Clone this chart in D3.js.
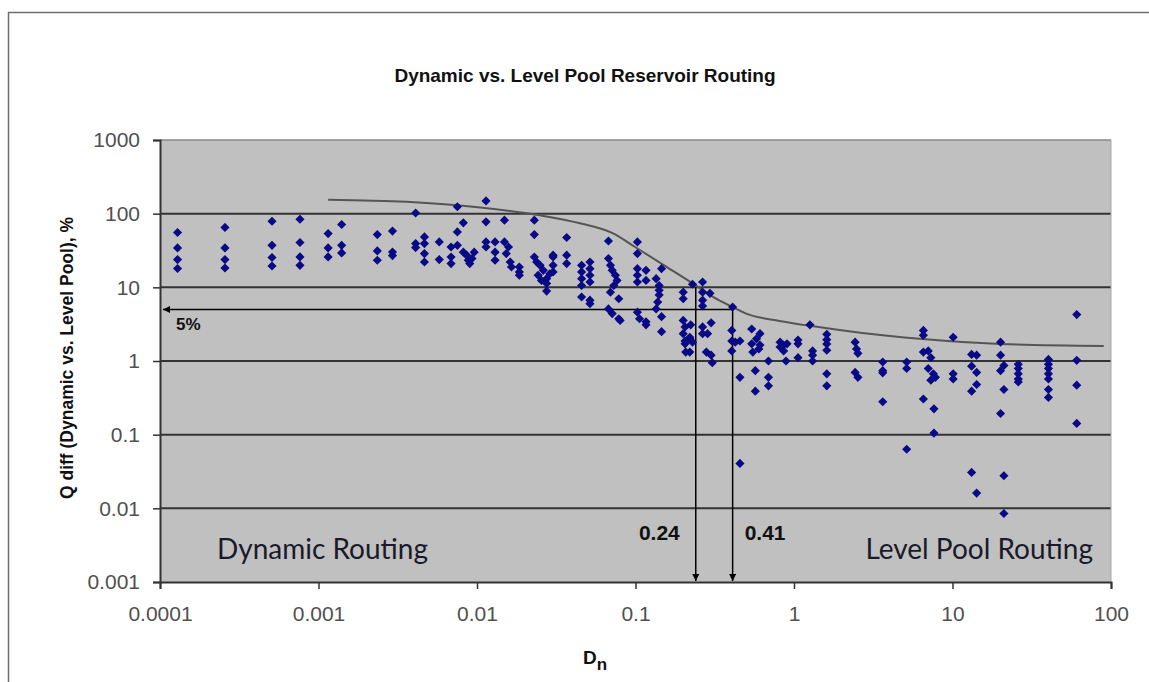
<!DOCTYPE html>
<html>
<head>
<meta charset="utf-8">
<script src="https://cdn.jsdelivr.net/npm/d3@7"></script>
<style>
  html, body { margin: 0; padding: 0; background: #ffffff; }
  svg { display: block; }
</style>
</head>
<body>
<svg id="chart" width="1149" height="682"></svg>
<script>
// Axis ticks (decades) and their printed labels
const xTicks = [0.0001, 0.001, 0.01, 0.1, 1, 10, 100];
const xTickLabels = ["0.0001", "0.001", "0.01", "0.1", "1", "10", "100"];
const yTicks = [0.001, 0.01, 0.1, 1, 10, 100, 1000];
const yTickLabels = ["0.001", "0.01", "0.1", "1", "10", "100", "1000"];

// Envelope curve through the upper bound of the differences
const envelopeDn = [0.00115, 0.0036, 0.0105, 0.025, 0.0447, 0.0722, 0.1, 0.157, 0.231, 0.308, 0.41, 0.5, 0.81, 1.26, 2.7, 6.2, 20, 90];
const envelopeQ  = [155, 145, 121, 95, 74, 54, 35, 19, 11.2, 7.4, 5.4, 4.4, 3.5, 3.0, 2.4, 2.0, 1.7, 1.6];

// Threshold annotations
const thresholdQ = 5;                 // "5%" line
const thresholdDn = [0.24, 0.41];     // vertical arrows
const thresholdTopQ = [10, 5];        // where each arrow starts

// Routing runs: [Dn, Q diff %]
const runs = [
  [0.000129,55.5],[0.000129,34.3],[0.000129,23.8],[0.000129,18],
  [0.000257,65],[0.000257,34.3],[0.000257,23.8],[0.000257,18.3],
  [0.000509,79],[0.000509,37.2],[0.000509,25.4],[0.000509,19.5],
  [0.000764,84],[0.000764,40.6],[0.000764,25.9],[0.000764,19.9],
  [0.00115,53.7],[0.00115,34.3],[0.00115,25.9],
  [0.0014,71.3],[0.0014,37.2],[0.0014,29.3],
  [0.00235,52],[0.00235,31.2],[0.00235,23.3],
  [0.00293,58],[0.00293,30.2],[0.00293,27],
  [0.0041,102],[0.0041,39.3],[0.0041,34.6],
  [0.00466,48.4],[0.00466,39.3],[0.00466,28.7],[0.00466,22.1],
  [0.00578,41.4],[0.00578,23.8],
  [0.00686,35.3],[0.00686,25.8],[0.00686,21],
  [0.00752,124],[0.00752,56.5],[0.00752,37.2],
  [0.0082,75],[0.0082,30],[0.0086,27.3],[0.0088,23.3],[0.0093,24.6],[0.009,21],[0.0096,30],
  [0.0114,149],[0.0114,77.4],[0.0114,41.4],[0.0114,35.3],
  [0.013,41.4],[0.013,30],[0.013,23.3],
  [0.0149,81.6],[0.0149,41.4],[0.0158,35.3],[0.0153,28.7],[0.0162,22.1],[0.0165,18.9],
  [0.0185,18.9],[0.0185,16.2],[0.0185,14.6],
  [0.023,81.6],[0.023,52],[0.023,25.8],
  [0.0238,22.1],[0.025,19.9],[0.0262,17],[0.0243,14.6],[0.0255,12.4],[0.0275,13.1],[0.0275,11.3],[0.0275,8.9],[0.0288,15.3],
  [0.0302,27.3],[0.0302,25.8],[0.0302,19.9],[0.0302,16.2],
  [0.0368,47.5],[0.0368,27.3],[0.0368,21],
  [0.0457,19.9],[0.0457,16.2],[0.0457,13.1],[0.0457,10.6],[0.0457,7.4],
  [0.0516,22.1],[0.0516,17.9],[0.0516,14.6],[0.0516,11.8],[0.0516,6.7],[0.0516,6],
  [0.0675,42.6],[0.0675,24.6],[0.0695,19.9],[0.0713,17],[0.0747,14.6],[0.0765,12.4],[0.073,10.6],[0.0695,8.6],[0.0784,7],
  [0.0675,5.1],[0.0713,4.4],[0.0784,3.75],[0.08,3.56],
  [0.1028,41.4],[0.1028,28.7],[0.1028,17.9],[0.1028,14.6],[0.1028,11.8],[0.1165,17],[0.1165,12.4],
  [0.1028,4.6],[0.106,3.75],[0.1165,3.4],[0.1165,3.1],
  [0.146,17.9],[0.135,13.1],[0.141,10.6],[0.141,9.1],[0.141,7.9],[0.138,6.3],[0.135,5.1],[0.146,4],[0.146,2.5],
  [0.2,8.6],[0.2,7],[0.229,11],
  [0.2,3.56],[0.2055,2.9],[0.2,2.35],[0.22,2.1],[0.2055,1.71],[0.22,1.32],[0.223,3.1],[0.2055,1.87],[0.22,2],[0.229,1.8],[0.2075,1.32],
  [0.265,11.8],[0.265,8.6],[0.265,6.7],[0.265,5.6],[0.295,8.3],
  [0.265,2.9],[0.265,2.35],[0.285,2.35],[0.3,3.3],[0.28,1.32],[0.3,1.2],[0.305,0.95],
  [0.41,5.4],[0.405,2.6],[0.405,1.87],[0.426,1.8],[0.456,1.87],[0.405,1.37],
  [0.456,0.6],[0.456,0.0407],
  [0.541,2.72],[0.61,2.35],[0.58,2],[0.541,1.71],[0.61,1.65],[0.55,1.32],[0.6,1.46],
  [0.69,1],[0.57,0.74],[0.69,0.6],[0.69,0.46],[0.57,0.39],
  [0.817,1.8],[0.817,1.55],[0.86,1.65],[0.904,1.71],[0.86,1.37],[0.89,1],
  [1.06,1.93],[1.06,1.71],[1.06,1.11],
  [1.26,3.1],[1.31,1.37],[1.31,1.2],[1.31,1],
  [1.61,2.3],[1.61,1.95],[1.61,1.7],[1.61,1.4],[1.61,0.67],[1.61,0.46],
  [2.43,1.8],[2.48,1.46],[2.53,1.27],[2.43,0.7],[2.53,0.6],
  [3.63,0.97],[3.63,0.74],[3.63,0.69],[3.63,0.28],
  [5.14,0.97],[5.14,0.79],[5.14,0.0634],
  [6.55,2.6],[6.55,2.23],[6.55,1.32],[7.03,1.37],[7.3,1.11],[7.03,0.79],[7.57,0.67],[7.3,0.55],[7.8,0.6],[6.55,0.305],[7.64,0.224],[7.64,0.105],
  [10.1,2.1],[10.1,0.67],[10.1,0.57],
  [13.2,1.23],[14.2,1.2],[13.2,0.85],[14.2,0.7],[14.2,0.48],[13.2,0.39],[13.2,0.0307],[14.2,0.0161],
  [20.1,1.8],[20.1,1.2],[20.1,0.74],[20.1,0.194],[21.1,0.87],[21.1,0.41],[21.1,0.0277],[21.1,0.0085],
  [26,0.9],[26,0.79],[26,0.67],[26,0.57],[26,0.52],
  [40.3,1.05],[40.3,0.9],[40.3,0.79],[40.3,0.67],[40.3,0.57],[40.3,0.41],[40.3,0.32],
  [60.8,4.27],[60.8,1.02],[60.8,0.47],[60.8,0.142]
];

const svg = d3.select("#chart");
const plot = { left: 160, right: 1111, top: 140, bottom: 582 };
const sans = "'Liberation Sans', Arial, sans-serif";

const x = d3.scaleLog().domain([0.0001, 100]).range([plot.left, plot.right]);
const y = d3.scaleLog().domain([0.001, 1000]).range([plot.bottom, plot.top]);

// page background and outer frame
svg.append("rect").attr("width", 1149).attr("height", 682).attr("fill", "#ffffff");
svg.append("path").attr("d", "M8.5,682V12.5H1149")
  .attr("fill", "none").attr("stroke", "#6f6f6f").attr("stroke-width", 1.5);

// arrowhead marker
const defs = svg.append("defs");
defs.append("marker").attr("id", "head")
  .attr("viewBox", "0 0 10 10").attr("refX", 10).attr("refY", 5)
  .attr("markerWidth", 8).attr("markerHeight", 7)
  .attr("markerUnits", "userSpaceOnUse")
  .attr("orient", "auto")
  .append("path").attr("d", "M0,0L10,5L0,10Z").attr("fill", "#000");

// plot area
svg.append("rect")
  .attr("x", plot.left).attr("y", plot.top)
  .attr("width", plot.right - plot.left).attr("height", plot.bottom - plot.top)
  .attr("fill", "#c0c0c0");

// decade gridlines
svg.append("g").selectAll("line")
  .data(yTicks.filter(v => v > 0.001 && v < 1000))
  .join("line")
  .attr("x1", plot.left).attr("x2", plot.right)
  .attr("y1", d => y(d)).attr("y2", d => y(d))
  .attr("stroke", "#333333").attr("stroke-width", 2);

// top and right edges of the plot area
svg.append("line").attr("x1", plot.left).attr("x2", plot.right)
  .attr("y1", y(1000)).attr("y2", y(1000))
  .attr("stroke", "#8a8a8a").attr("stroke-width", 1.5);
svg.append("line").attr("x1", x(100)).attr("x2", x(100))
  .attr("y1", plot.top).attr("y2", plot.bottom)
  .attr("stroke", "#a8a8a8").attr("stroke-width", 1);

// envelope curve
const envelope = envelopeDn.map((d, i) => [d, envelopeQ[i]]);
svg.append("path")
  .datum(envelope)
  .attr("fill", "none")
  .attr("stroke", "#555555")
  .attr("stroke-width", 2)
  .attr("d", d3.line().x(d => x(d[0])).y(d => y(d[1])).curve(d3.curveMonotoneX));

// threshold arrows
const ann = svg.append("g").attr("stroke", "#000").attr("stroke-width", 1.5).attr("fill", "none");
ann.append("line")
  .attr("x1", x(thresholdDn[1])).attr("x2", x(0.0001) + 3)
  .attr("y1", y(thresholdQ)).attr("y2", y(thresholdQ))
  .attr("marker-end", "url(#head)");
ann.selectAll("line.v")
  .data(thresholdDn)
  .join("line").attr("class", "v")
  .attr("x1", d => x(d)).attr("x2", d => x(d))
  .attr("y1", (d, i) => y(thresholdTopQ[i]))
  .attr("y2", y(0.001) - 1)
  .attr("marker-end", "url(#head)");

// runs
const diamond = d3.symbol().type(d3.symbolSquare).size(42);
svg.append("g").selectAll("path")
  .data(runs)
  .join("path")
  .attr("d", diamond)
  .attr("transform", d => `translate(${x(d[0])},${y(d[1])}) rotate(45)`)
  .attr("fill", "#0a0a86");

// axes
const yAxis = d3.axisLeft(y).tickValues(yTicks)
  .tickFormat((d, i) => yTickLabels[i]).tickSize(7).tickPadding(13);
const xAxis = d3.axisBottom(x).tickValues(xTicks)
  .tickFormat((d, i) => xTickLabels[i]).tickSize(7).tickPadding(17);

const gy = svg.append("g").attr("transform", `translate(${plot.left},0)`).call(yAxis);
const gx = svg.append("g").attr("transform", `translate(0,${plot.bottom})`).call(xAxis);
[gx, gy].forEach(g => {
  g.select(".domain").attr("stroke", "#333").attr("stroke-width", 2);
  g.selectAll(".tick line").attr("stroke", "#333").attr("stroke-width", 1.5);
  g.selectAll(".tick text")
    .attr("fill", "#505050")
    .attr("font-family", sans)
    .attr("font-size", 21);
});

// titles
svg.append("text")
  .attr("x", 585).attr("y", 82)
  .attr("text-anchor", "middle")
  .attr("font-family", sans)
  .attr("font-weight", "bold").attr("font-size", 19)
  .attr("fill", "#111")
  .text("Dynamic vs. Level Pool Reservoir Routing");

svg.append("text")
  .attr("transform", "translate(73,358) rotate(-90)")
  .attr("text-anchor", "middle")
  .attr("font-family", sans)
  .attr("font-weight", "bold").attr("font-size", 17.5)
  .attr("fill", "#111")
  .text("Q diff (Dynamic vs. Level Pool), %");

const xl = svg.append("text")
  .attr("x", 583).attr("y", 664)
  .attr("font-family", sans)
  .attr("font-weight", "bold").attr("font-size", 19)
  .attr("fill", "#111");
xl.append("tspan").text("D");
xl.append("tspan").attr("dy", 6).attr("font-size", 17).text("n");

// annotation labels
svg.append("text")
  .attr("x", x(0.0001) + 16).attr("y", y(thresholdQ) + 20)
  .attr("font-family", sans).attr("font-weight", "bold").attr("font-size", 17)
  .attr("fill", "#111").text("5%");
svg.append("text")
  .attr("x", x(thresholdDn[0]) - 16).attr("y", 540)
  .attr("text-anchor", "end")
  .attr("font-family", sans).attr("font-weight", "bold").attr("font-size", 21)
  .attr("fill", "#111").text("0.24");
svg.append("text")
  .attr("x", x(thresholdDn[1]) + 12).attr("y", 540)
  .attr("font-family", sans).attr("font-weight", "bold").attr("font-size", 21)
  .attr("fill", "#111").text("0.41");

svg.append("text")
  .attr("x", 217).attr("y", 559)
  .attr("font-family", "Lato, 'Open Sans', sans-serif").attr("font-size", 28)
  .attr("fill", "#1a1a2a").text("Dynamic Routing");
svg.append("text")
  .attr("x", 1093).attr("y", 559)
  .attr("text-anchor", "end")
  .attr("font-family", "Lato, 'Open Sans', sans-serif").attr("font-size", 28)
  .attr("fill", "#1a1a2a").text("Level Pool Routing");
</script>
</body>
</html>
